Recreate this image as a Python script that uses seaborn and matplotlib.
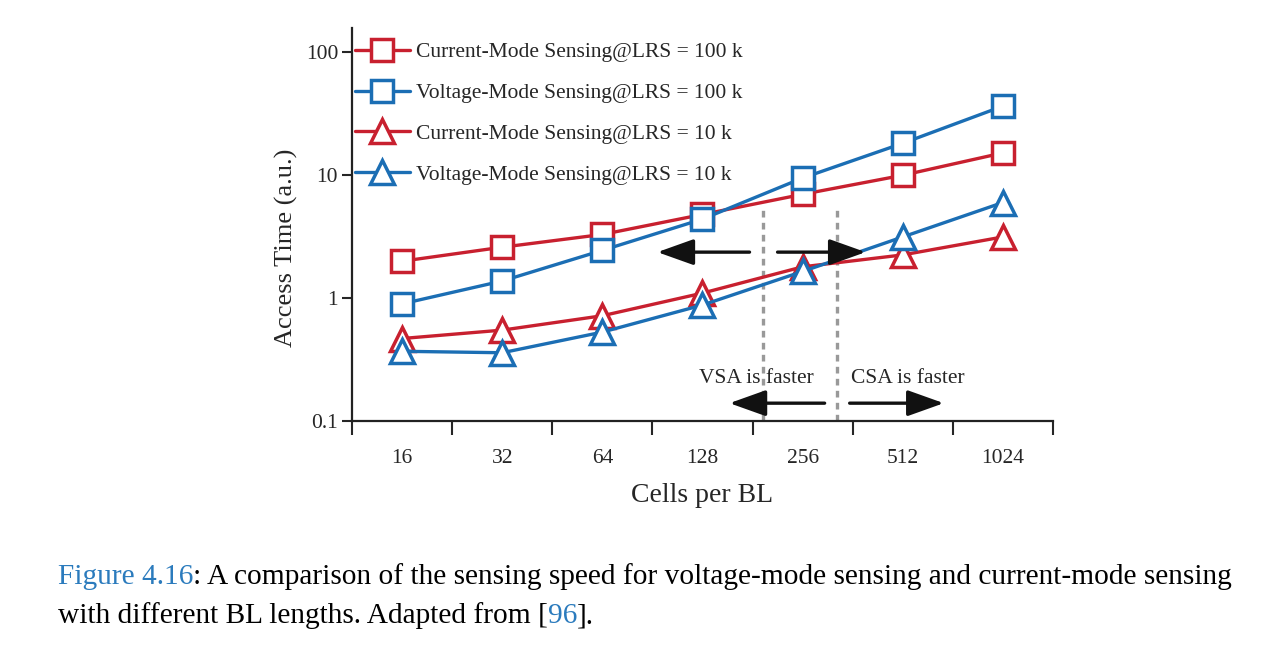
"""Access time vs. cells per BL: voltage-mode vs current-mode sensing."""

import matplotlib
matplotlib.use("Agg")
import matplotlib.pyplot as plt
import numpy as np
import pandas as pd
import seaborn as sns

# --- data ------------------------------------------------------------------
cells = ["16", "32", "64", "128", "256", "512", "1024"]
series_names = [
    "Current-Mode Sensing@LRS = 100 k",
    "Voltage-Mode Sensing@LRS = 100 k",
    "Current-Mode Sensing@LRS = 10 k",
    "Voltage-Mode Sensing@LRS = 10 k",
]
cm_100k = [2.0, 2.6, 3.3, 4.8, 7.0, 10.0, 15.2]
vm_100k = [0.9, 1.38, 2.45, 4.4, 9.5, 18.2, 36.5]
cm_10k = [0.47, 0.55, 0.72, 1.1, 1.8, 2.25, 3.15]
vm_10k = [0.37, 0.36, 0.53, 0.88, 1.65, 3.15, 6.0]

yticks = [0.1, 1, 10, 100]
ytick_labels = ["0.1", "1", "10", "100"]

# annotation helpers (data coords)
boundaries = [3.6, 4.34]
upper_arrows = [(3.47, 2.55), (3.75, 4.63)]
lower_arrows = [(4.22, 3.27), (4.47, 5.41)]

RED = "#c8202f"
BLUE = "#1b6eb4"
CAPTION_BLUE = "#2b7bbd"

sns.set_style("ticks")
plt.rcParams["font.family"] = ["Liberation Serif", "DejaVu Serif"]

df = pd.DataFrame({
    "cells": cells * 4,
    "time": cm_100k + vm_100k + cm_10k + vm_10k,
    "series": np.repeat(series_names, len(cells)),
})

palette = dict(zip(series_names, [RED, BLUE, RED, BLUE]))
markers = dict(zip(series_names, ["s", "s", "^", "^"]))

fig = plt.figure(figsize=(12.64, 6.57), dpi=100)
ax = fig.add_axes([0.2785, 0.359, 0.5545, 0.598])

sns.lineplot(data=df, x="cells", y="time", hue="series", style="series",
             palette=palette, markers=markers, dashes=False, lw=2.4,
             legend=False, ax=ax, sort=False)

for line in ax.lines:
    c = line.get_color()
    line.set_markerfacecolor("white")
    line.set_markeredgecolor(c)
    line.set_markeredgewidth(2.5)
    line.set_markersize(15.5 if line.get_marker() == "s" else 17.5)

ax.set_yscale("log")
ax.set_ylim(0.1, 157)
ax.set_xlim(-0.5, len(cells) - 0.5)
ax.set_yticks(yticks)
ax.set_yticklabels(ytick_labels)
ax.yaxis.set_minor_locator(matplotlib.ticker.NullLocator())

ax.set_xticks(np.arange(-0.5, len(cells)), labels=[""] * (len(cells) + 1))
ax.set_xticks(np.arange(len(cells)), labels=cells, minor=True)
ax.tick_params(axis="x", which="minor", length=0, pad=20, labelsize=15.5)
ax.tick_params(axis="x", which="major", length=10, width=1.5, direction="out")
ax.tick_params(axis="y", length=7, width=1.5, direction="out", labelsize=15.5, pad=3)

for side in ["top", "right"]:
    ax.spines[side].set_visible(False)
for side in ["left", "bottom"]:
    ax.spines[side].set_linewidth(1.6)
    ax.spines[side].set_color("#222222")

ax.set_xlabel("Cells per BL", fontsize=20, labelpad=11)
ax.set_ylabel("Access Time (a.u.)", fontsize=19)
ax.yaxis.set_label_coords(-0.077, 0.44)

# boundary lines
ax.vlines(boundaries, 0.1, 5.4, colors="#999999", linestyles=(0, (2, 1.6)), lw=2.4,
          zorder=1)

arrow_kw = dict(arrowstyle="-|>,head_length=1.4,head_width=0.5", color="#111111",
                lw=2.4, shrinkA=0, shrinkB=0, mutation_scale=16)
for x0, x1 in upper_arrows:
    ax.annotate("", xy=(x1, 2.37), xytext=(x0, 2.37), arrowprops=arrow_kw)
for x0, x1 in lower_arrows:
    ax.annotate("", xy=(x1, 0.14), xytext=(x0, 0.14), arrowprops=arrow_kw)

ax.text(3.54, 0.224, "VSA is faster", ha="center", va="center", fontsize=15.5)
ax.text(5.05, 0.224, "CSA is faster", ha="center", va="center", fontsize=15.5)

ax.legend(ax.lines, series_names, loc="upper left", bbox_to_anchor=(0.004, 0.964),
          frameon=False, fontsize=15.5, handlelength=2.55, handletextpad=0.3,
          labelspacing=0.96, borderaxespad=0, borderpad=0)

# caption with blue reference pieces
fig.canvas.draw()
renderer = fig.canvas.get_renderer()


def caption_line(pieces, x, y):
    for txt, col in pieces:
        t = fig.text(x, y, txt, color=col, fontsize=21.2, ha="left", va="baseline")
        bb = t.get_window_extent(renderer)
        x += bb.width / fig.bbox.width


caption_line([("Figure 4.16", CAPTION_BLUE),
              (": A comparison of the sensing speed for voltage-mode sensing and "
               "current-mode sensing", "black")], 58 / 1264, 1 - 584 / 657)
caption_line([("with different BL lengths. Adapted from [", "black"),
              ("96", CAPTION_BLUE), ("].", "black")], 58 / 1264, 1 - 623 / 657)

fig.savefig("out.png", dpi=100)
